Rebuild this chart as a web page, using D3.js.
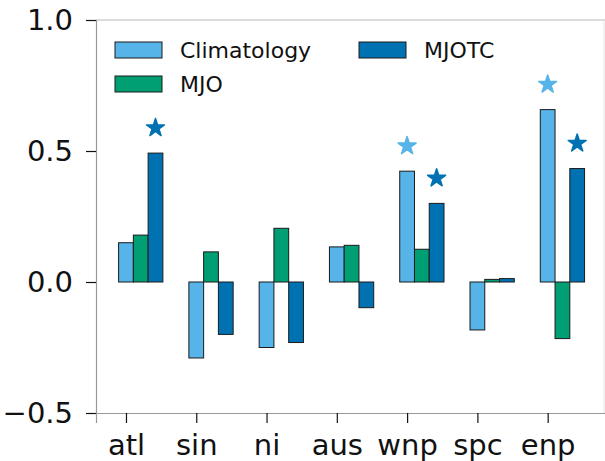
<!DOCTYPE html>
<html>
<head>
<meta charset="utf-8">
<script src="https://cdn.jsdelivr.net/npm/d3@7/dist/d3.min.js"></script>
<style>
  body { margin: 0; background: #fff; }
  text { font-family: "DejaVu Sans", sans-serif; }
</style>
</head>
<body>
<div id="chart"></div>
<script>
// data
var regions = ['atl', 'sin', 'ni', 'aus', 'wnp', 'spc', 'enp'];
var climatology = [0.150, -0.290, -0.250, 0.134, 0.423, -0.183, 0.658];
var mjo = [0.179, 0.115, 0.205, 0.140, 0.125, 0.010, -0.216];
var mjotc = [0.492, -0.200, -0.231, -0.098, 0.300, 0.013, 0.433];
// significance stars (1 = star above bar)
var climSig = [0, 0, 0, 0, 1, 0, 1];
var mjotcSig = [1, 0, 0, 0, 1, 0, 1];
var yTicks = [-0.5, 0.0, 0.5, 1.0];

var width = 605, height = 461;
var series = [
  { name: 'Climatology', values: climatology, sig: climSig, color: '#56B4E9', offset: 0 },
  { name: 'MJO', values: mjo, sig: null, color: '#009E73', offset: 1 },
  { name: 'MJOTC', values: mjotc, sig: mjotcSig, color: '#0072B2', offset: 2 }
];
var barW = 0.21;

var svg = d3.select('#chart')
  .append('svg')
  .attr('width', width)
  .attr('height', height);

// scales (x like matplotlib, index units)
var xScale = d3.scaleLinear()
  .domain([-0.4265, 6.83])
  .range([96, 606]);

var yScale = d3.scaleLinear()
  .domain([-0.5, 1.0])
  .range([413, 20]);

//top and right spines, faint
svg.append('line')
  .attr('x1', 96).attr('x2', 605)
  .attr('y1', 20).attr('y2', 20)
  .attr('stroke', '#b8b8b8')
  .attr('stroke-width', 1.2);
svg.append('line')
  .attr('x1', 604).attr('x2', 604)
  .attr('y1', 20).attr('y2', 413)
  .attr('stroke', '#e4e4e4')
  .attr('stroke-width', 1);

//bars
series.forEach(function (s) {
  svg.append('g')
    .attr('class', 'bars')
    .selectAll('rect')
    .data(s.values)
    .enter()
    .append('rect')
    .attr('x', function (d, i) { return xScale(i + s.offset * barW - barW / 2); })
    .attr('width', xScale(barW) - xScale(0))
    .attr('y', function (d) { return yScale(Math.max(d, 0)); })
    .attr('height', function (d) { return Math.abs(yScale(d) - yScale(0)); })
    .attr('fill', s.color)
    .attr('stroke', '#1a1a1a')
    .attr('stroke-width', 1);
});

//stars
var star = d3.symbol().type(d3.symbolStar).size(100);
series.forEach(function (s) {
  if (!s.sig) return;
  svg.append('g')
    .attr('class', 'stars')
    .selectAll('path')
    .data(s.values.map(function (v, i) { return { v: v, i: i, sig: s.sig[i] }; })
      .filter(function (d) { return d.sig; }))
    .enter()
    .append('path')
    .attr('d', star)
    .attr('fill', s.color)
    .attr('stroke', s.color)
    .attr('stroke-linejoin', 'round')
    .attr('stroke-width', 1.5)
    .attr('transform', function (d) {
      return 'translate(' + xScale(d.i + s.offset * barW) + ',' + (yScale(d.v + 0.1) + 1) + ')';
    });
});

//y axis
var axisY = d3.axisLeft(yScale)
  .tickValues(yTicks)
  .tickSize(10)
  .tickPadding(13)
  .tickFormat(d3.format('.1f'));

var gy = svg.append('g')
  .attr('transform', 'translate(96,0)')
  .call(axisY);
gy.select('.domain').attr('stroke', '#999').attr('stroke-width', 1.2);
gy.selectAll('.tick line').attr('stroke', '#111').attr('stroke-width', 1.2);
gy.selectAll('.tick text')
  .attr('font-size', 29)
  .attr('fill', '#111')
  .text(function (d) { return d < 0 ? '\u2212' + d3.format('.1f')(-d) : d3.format('.1f')(d); });

//x axis
var axisX = d3.axisBottom(xScale)
  .tickValues(d3.range(regions.length))
  .tickSize(10)
  .tickFormat(function (d) { return regions[d]; });

var gx = svg.append('g')
  .attr('transform', 'translate(0,413)')
  .call(axisX);
gx.select('.domain').attr('stroke', '#999').attr('stroke-width', 1.2);
gx.selectAll('.tick line').attr('stroke', '#111').attr('stroke-width', 1.2);
gx.selectAll('.tick text')
  .attr('font-size', 29)
  .attr('fill', '#111')
  .attr('y', 42)
  .attr('dy', 0);

//legend
var legendPos = [{ x: 115, y: 42 }, { x: 115, y: 76 }, { x: 359, y: 42 }];
var legend = svg.append('g')
  .attr('class', 'legend')
  .selectAll('g')
  .data(series)
  .enter()
  .append('g')
  .attr('transform', function (d, i) { return 'translate(' + legendPos[i].x + ',' + legendPos[i].y + ')'; });

legend.append('rect')
  .attr('width', 47)
  .attr('height', 16)
  .attr('fill', function (d) { return d.color; })
  .attr('stroke', '#1a1a1a')
  .attr('stroke-width', 1);

legend.append('text')
  .attr('x', 65)
  .attr('y', 16)
  .attr('font-size', 22)
  .attr('fill', '#111')
  .text(function (d) { return d.name; });
</script>
</body>
</html>
